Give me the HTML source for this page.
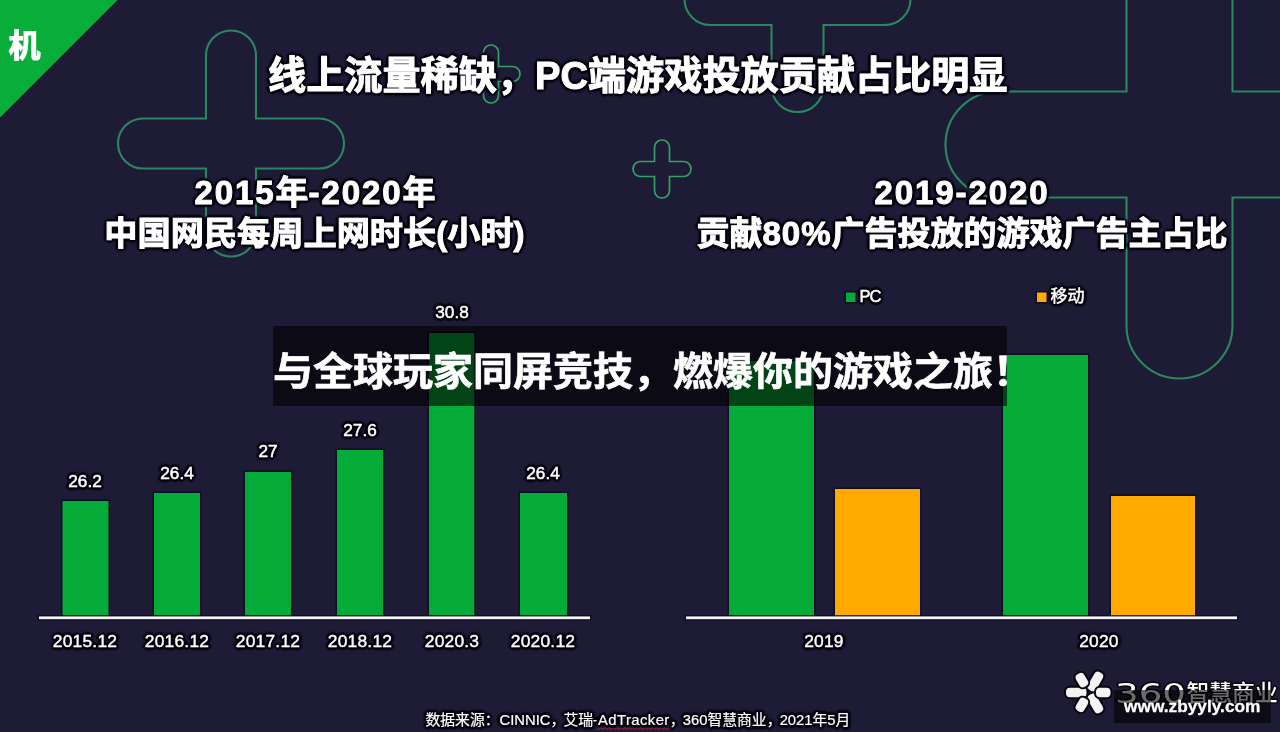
<!DOCTYPE html>
<html lang="zh-CN">
<head>
<meta charset="utf-8">
<title>与全球玩家同屏竞技，燃爆你的游戏之旅！</title>
<style>
*{margin:0;padding:0;box-sizing:border-box}
html,body{width:1280px;height:732px;overflow:hidden;background:#1d1b35}
body{font-family:"Liberation Sans","Noto Sans CJK SC",sans-serif;color:#fff}
#stage{position:relative;width:1280px;height:732px;overflow:hidden;background:#1d1b35}
#img{position:absolute;left:0;top:0;width:1280px;height:732px;overflow:hidden;filter:blur(.45px)}
#bg{position:absolute;left:0;top:0;width:1280px;height:732px}
.t{position:absolute;white-space:nowrap;font-weight:700;color:#fff;line-height:1;-webkit-text-stroke:1px #fff;text-shadow:1.50px 0.00px 0.5px #06050f,1.06px 1.06px 0.5px #06050f,0.00px 1.50px 0.5px #06050f,-1.06px 1.06px 0.5px #06050f,-1.50px 0.00px 0.5px #06050f,-1.06px -1.06px 0.5px #06050f,-0.00px -1.50px 0.5px #06050f,1.06px -1.06px 0.5px #06050f,2.80px 0.00px 1.2px #06050f,2.42px 1.40px 1.2px #06050f,1.40px 2.42px 1.2px #06050f,0.00px 2.80px 1.2px #06050f,-1.40px 2.42px 1.2px #06050f,-2.42px 1.40px 1.2px #06050f,-2.80px 0.00px 1.2px #06050f,-2.42px -1.40px 1.2px #06050f,-1.40px -2.42px 1.2px #06050f,-0.00px -2.80px 1.2px #06050f,1.40px -2.42px 1.2px #06050f,2.42px -1.40px 1.2px #06050f}
.c{transform:translateX(-50%);text-align:center}
.d{letter-spacing:1.9px}
#title{left:268px;top:56.5px;font-size:38.15px}
#h1a{left:315px;top:175.5px;font-size:33px}
#h1b{left:314.5px;top:217px;font-size:33.2px}
#h2a{left:962px;top:175.5px;font-size:33px}
#h2b{left:962px;top:217px;font-size:33px}
.v{font-size:17.2px;font-weight:400;-webkit-text-stroke:.5px #fff;margin-top:-.7px}
.x{font-size:17.4px;font-weight:400;-webkit-text-stroke:.4px #fff;letter-spacing:.2px}
#corner{left:8.5px;top:30px;font-size:32px;text-shadow:none}
#src{left:425.5px;top:712.5px;font-size:14.8px;font-weight:400;-webkit-text-stroke:.2px #fff}
#src i{font-style:normal;display:inline-block;width:13px}
#src u{text-decoration:none;letter-spacing:.45px}
#banner{position:absolute;left:273px;top:326px;width:734px;height:80px;background:rgba(0,0,0,.6);color:#fff;-webkit-text-stroke:.7px #fff;font-weight:700;font-size:40px;line-height:90px;text-align:left;white-space:nowrap;overflow:hidden}
#banner span{display:inline-block;transform:scaleY(.965);transform-origin:0 66px}
#wm{position:absolute;left:1113.5px;top:690px;width:157.5px;height:33px;background:rgba(0,0,0,.58);color:#fff;-webkit-text-stroke:.3px #fff;font-family:"Liberation Sans",sans-serif;font-weight:700;font-size:17.3px;line-height:33px;text-align:center;white-space:nowrap}
</style>
</head>
<body>
<div id="stage">
<div id="img">
<svg id="bg" width="1280" height="732" viewBox="0 0 1280 732">
  <rect width="1280" height="732" fill="#1d1b35"/>
  <polygon points="0,0 117.5,0 0,117.5" fill="#09ae3a"/>
  <g fill="none" stroke="#2d8660" stroke-width="2.1">
    <!-- left big cross -->
    <path d="M206,118.5 V55.5 a25,25 0 0 1 50,0 V118.5 H319 a25,25 0 0 1 0,50 H256 V231.5 a25,25 0 0 1 -50,0 V168.5 H143 a25,25 0 0 1 0,-50 Z"/>
    <!-- top middle cross -->
    <path d="M771.5,-27 V-88 a26,26 0 0 1 52,0 V-27 H884.5 a26,26 0 0 1 0,52 H823.5 V86 a26,26 0 0 1 -52,0 V25 H710.5 a26,26 0 0 1 0,-52 Z"/>
    <!-- right big cross -->
    <path d="M1126.5,91.5 V-36.5 a53,53 0 0 1 106,0 V91.5 H1360.5 a53,53 0 0 1 0,106 H1232.5 V325.5 a53,53 0 0 1 -106,0 V197.5 H998.5 a53,53 0 0 1 0,-106 Z"/>
    <!-- small crosses -->
    <path stroke="#34a068" stroke-width="1.7" d="M654.5,161.5 V147.5 a7.5,7.5 0 0 1 15.0,0 V161.5 H683.5 a7.5,7.5 0 0 1 0,15.0 H669.5 V190.5 a7.5,7.5 0 0 1 -15.0,0 V176.5 H640.5 a7.5,7.5 0 0 1 0,-15.0 Z"/>
    <path stroke="#34a068" stroke-width="1.7" d="M483.5,66.5 V52.5 a7.5,7.5 0 0 1 15.0,0 V66.5 H512.5 a7.5,7.5 0 0 1 0,15.0 H498.5 V95.5 a7.5,7.5 0 0 1 -15.0,0 V81.5 H469.5 a7.5,7.5 0 0 1 0,-15.0 Z"/>
  </g>
  <!-- left chart -->
  <g fill="#05ab39" stroke="#100e27" stroke-width="3" paint-order="stroke">
    <rect x="62.5" y="501" width="46" height="117"/>
    <rect x="154" y="493" width="46" height="125"/>
    <rect x="245" y="472" width="46" height="146"/>
    <rect x="337" y="450" width="46" height="168"/>
    <rect x="429" y="333" width="45.3" height="285"/>
    <rect x="520" y="493" width="47" height="125"/>
    <rect x="729" y="361" width="85" height="257"/>
    <rect x="1003" y="355" width="85" height="263"/>
    <rect x="846" y="292.5" width="9.5" height="9.5"/>
  </g>
  <g fill="#ffaa00" stroke="#100e27" stroke-width="3" paint-order="stroke">
    <rect x="835" y="489" width="85" height="129"/>
    <rect x="1111" y="496" width="84" height="122"/>
    <rect x="1037" y="292.5" width="9.5" height="9.5"/>
  </g>
  <rect x="39" y="616.4" width="551" height="2.8" fill="#f6f6f6" stroke="#0c0a20" stroke-width="2.4" paint-order="stroke"/>
  <rect x="686" y="616.4" width="551" height="2.8" fill="#f6f6f6" stroke="#0c0a20" stroke-width="2.4" paint-order="stroke"/>
  <path d="M597,728.6 L599,729.7 L601,727.5 L603,729.7 L605,727.5 L607,729.7 L609,727.5 L611,729.7 L613,727.5 L615,729.7 L617,727.5 L619,729.7 L621,727.5 L623,729.7 L625,727.5 L627,729.7 L629,727.5 L631,729.7 L633,727.5 L635,729.7 L637,727.5 L639,729.7 L641,727.5 L643,729.7 L645,727.5 L647,729.7 L649,727.5 L651,729.7 L653,727.5 L655,729.7 L657,727.5 L659,729.7 L661,727.5 L663,729.7 L665,727.5 L667,729.7 L669,727.5" fill="none" stroke="#c8242b" stroke-width="1"/>
  <!-- 360 logo flower -->
  <g transform="translate(1089,692.5)" stroke="#07060f" stroke-width="4" fill="#f3f3f3" paint-order="stroke" stroke-linejoin="round">
    <g transform="rotate(-60)"><rect x="2.5" y="-4.75" width="20.5" height="9.5" rx="4"/></g>
    <g transform="rotate(60)"><rect x="2.5" y="-4.75" width="20.5" height="9.5" rx="4"/></g>
    <g transform="rotate(180)"><rect x="2.5" y="-4.75" width="20.5" height="9.5" rx="4"/></g>
    <g transform="rotate(0)"><rect x="7" y="-4.75" width="14.5" height="9.5" rx="4"/></g>
    <g transform="rotate(120)"><rect x="7" y="-4.75" width="14.5" height="9.5" rx="4"/></g>
    <g transform="rotate(240)"><rect x="7" y="-4.75" width="14.5" height="9.5" rx="4"/></g>
  </g>
  <g fill="#fff" stroke="#07060f" stroke-width="3" paint-order="stroke" stroke-linejoin="round">
    <text x="1115" y="702.8" font-family="'DejaVu Sans','Liberation Sans',sans-serif" font-size="26.5" textLength="71" lengthAdjust="spacingAndGlyphs">360</text>
    <text x="1186.5" y="701" font-family="'Liberation Sans','Noto Sans CJK SC',sans-serif" font-size="22.8" font-weight="500">智慧商业</text>
  </g>
</svg>

<div class="t" id="corner">机</div>
<div class="t" id="title">线上流量稀缺，PC端游戏投放贡献占比明显</div>
<div class="t c" id="h1a"><span class="d">2015</span>年<span class="d">-2020</span>年</div>
<div class="t c" id="h1b">中国网民每周上网时长(小时)</div>
<div class="t c d" id="h2a">2019-2020</div>
<div class="t c" id="h2b">贡献<span style="letter-spacing:1px">80%</span>广告投放的游戏广告主占比</div>

<div class="t c v" style="left:85px;top:474px">26.2</div>
<div class="t c v" style="left:177px;top:466px">26.4</div>
<div class="t c v" style="left:268px;top:444px">27</div>
<div class="t c v" style="left:360px;top:423px">27.6</div>
<div class="t c v" style="left:452px;top:305px">30.8</div>
<div class="t c v" style="left:543px;top:466px">26.4</div>

<div class="t c x" style="left:85px;top:633px">2015.12</div>
<div class="t c x" style="left:177px;top:633px">2016.12</div>
<div class="t c x" style="left:268px;top:633px">2017.12</div>
<div class="t c x" style="left:360px;top:633px">2018.12</div>
<div class="t c x" style="left:452px;top:633px">2020.3</div>
<div class="t c x" style="left:543px;top:633px">2020.12</div>
<div class="t c x" style="left:824px;top:633px">2019</div>
<div class="t c x" style="left:1099px;top:633px">2020</div>

<div class="t v" style="left:859.5px;top:288.5px;font-size:16.5px;letter-spacing:-1.1px">PC</div>
<div class="t v" style="left:1050.5px;top:288.3px;font-size:17px">移动</div>

<div class="t" id="src">数据来源：CINNIC<i>，</i>艾瑞-<u>AdTracker</u><i>，</i>360智慧商业<i>，</i>2021年5月</div>

<div id="wm">www.zbyyly.com</div>
</div>
<div id="banner"><span>与全球玩家同屏竞技，燃爆你的游戏之旅！</span></div>
</div>
</body>
</html>
